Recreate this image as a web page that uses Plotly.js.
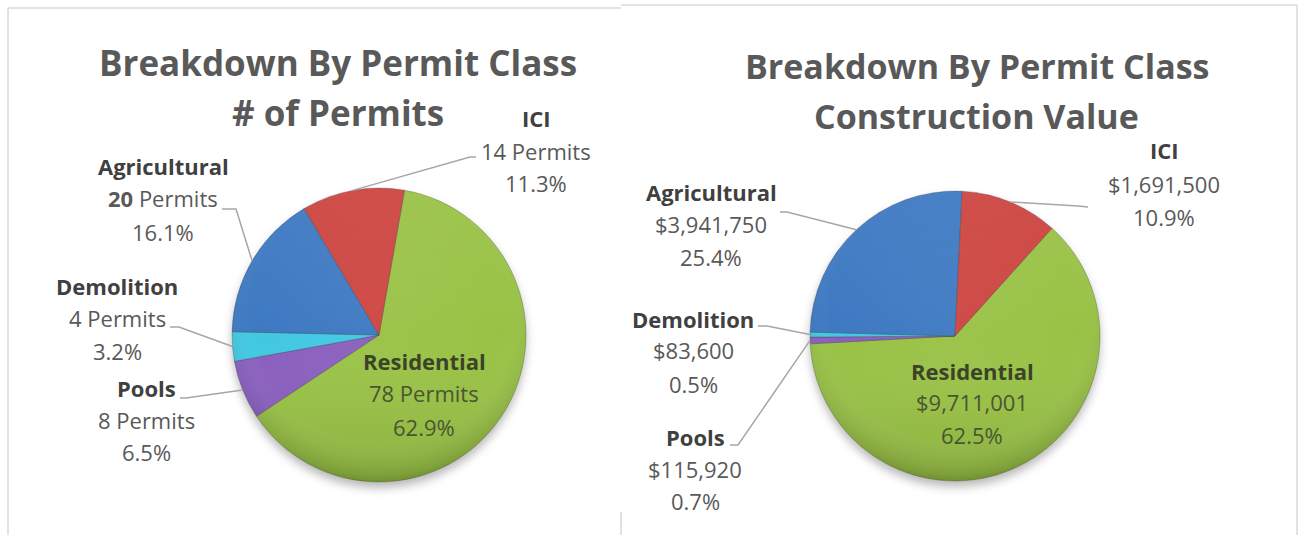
<!DOCTYPE html>
<html><head><meta charset="utf-8">
<script src="https://cdn.plot.ly/plotly-3.0.1.min.js"></script>
<style>html,body{margin:0;padding:0;background:#fff}#chart{width:1302px;height:535px}</style>
</head><body><div id="chart"></div>
<script>
// ---- data ----
const categories = ['Residential', 'Pools', 'Demolition', 'Agricultural', 'ICI'];
const permitCounts = [78, 8, 4, 20, 14];
const constructionValues = [9711001, 115920, 83600, 3941750, 1691500];
const sliceColors = ['#99c245', '#8a5fbf', '#42c8e2', '#3d79c2', '#cd4440'];
const titleLeft = ['Breakdown By Permit Class', '# of Permits'];
const titleRight = ['Breakdown By Permit Class', 'Construction Value'];

// ---- layout helpers ----
const W = 1302, H = 535;
const px = x => x / W, py = y => 1 - y / H;
const FONT = 'Open Sans, Noto Sans, sans-serif';

const charts = [
  {
    values: permitCounts, cx: 379, cy: 335, r: 147, rotation: 10,
    fmt: (v, cat) => (cat === 'Agricultural' ? '<b>' + v + '</b>' : v) + ' Permits',
    title: titleLeft, titleX: 338, titleY: [62, 112], titleSize: 35,
    pos: {
      Residential: {x: 424, y: [361, 393, 427]},
      Pools: {x: 146, y: [388, 420, 452]},
      Demolition: {x: 117, y: [286, 318, 351]},
      Agricultural: {x: 163, y: [166, 198, 232]},
      ICI: {x: 536, y: [118, 151, 183]}
    },
    leaders: {
      ICI: [[476, 157], [470, 157]],
      Agricultural: [[222, 209], [236, 209]],
      Demolition: [[170, 327], [179, 327]],
      Pools: [[180, 398], [186, 398]]
    }
  },
  {
    values: constructionValues, cx: 955, cy: 336, r: 145, rotation: 42,
    fmt: v => '$' + v.toLocaleString('en-US'),
    title: titleRight, titleX: 977, titleY: [66, 116], titleSize: 34,
    pos: {
      Residential: {x: 972, y: [371, 402, 435]},
      Pools: {x: 695, y: [437, 469, 501]},
      Demolition: {x: 693, y: [319, 350, 384]},
      Agricultural: {x: 711, y: [192, 224, 257]},
      ICI: {x: 1164, y: [150, 184, 217]}
    },
    leaders: {
      ICI: [[1088, 207], [1078, 206]],
      Agricultural: [[780, 212], [787, 212]],
      Demolition: [[758, 326], [767, 326]],
      Pools: [[730, 445], [738, 445]]
    }
  }
];

// soft 3-D shading overlay and drop shadow (decoration only)
const svgUri = s => 'data:image/svg+xml;charset=utf-8,' + encodeURIComponent(s);
const shadeSvg = svgUri("<svg xmlns='http://www.w3.org/2000/svg' width='300' height='300' viewBox='0 0 300 300'>" +
  "<defs><radialGradient id='g' cx='50%' cy='42%' r='60%'>" +
  "<stop offset='0' stop-color='#ffffff' stop-opacity='0.04'/>" +
  "<stop offset='0.72' stop-color='#ffffff' stop-opacity='0'/>" +
  "<stop offset='0.93' stop-color='#000000' stop-opacity='0.10'/>" +
  "<stop offset='1' stop-color='#000000' stop-opacity='0.25'/></radialGradient>" +
  "<linearGradient id='h' x1='0' y1='0' x2='0' y2='1'>" +
  "<stop offset='0' stop-color='#ffffff' stop-opacity='0.06'/>" +
  "<stop offset='0.5' stop-color='#ffffff' stop-opacity='0'/>" +
  "<stop offset='1' stop-color='#000000' stop-opacity='0.10'/></linearGradient></defs>" +
  "<circle cx='150' cy='150' r='150' fill='url(#h)'/>" +
  "<circle cx='150' cy='150' r='150' fill='url(#g)'/></svg>");
const shadowSvg = svgUri("<svg xmlns='http://www.w3.org/2000/svg' width='340' height='340' viewBox='0 0 340 340'>" +
  "<defs><filter id='b' x='-20%' y='-20%' width='140%' height='140%'><feGaussianBlur stdDeviation='5'/></filter></defs>" +
  "<circle cx='170' cy='176' r='150' fill='#000' fill-opacity='0.28' filter='url(#b)'/></svg>");

const traces = [], annotations = [], shapes = [], images = [];

charts.forEach(c => {
  traces.push({
    type: 'pie', labels: categories, values: c.values, sort: false,
    direction: 'clockwise', rotation: c.rotation, textinfo: 'none',
    hoverinfo: 'label+value+percent', showlegend: false,
    marker: {colors: sliceColors, line: {color: 'rgba(40,40,40,0.25)', width: 1}},
    domain: {x: [px(c.cx - c.r), px(c.cx + c.r)], y: [py(c.cy + c.r), py(c.cy - c.r)]}
  });
  images.push({source: shadeSvg, xref: 'paper', yref: 'paper', x: px(c.cx - c.r), y: py(c.cy - c.r),
    sizex: 2 * c.r / W, sizey: 2 * c.r / H, xanchor: 'left', yanchor: 'top', sizing: 'stretch', layer: 'above'});
  const rs = c.r * 340 / 300;
  images.push({source: shadowSvg, xref: 'paper', yref: 'paper', x: px(c.cx - rs), y: py(c.cy - rs),
    sizex: 2 * rs / W, sizey: 2 * rs / H, xanchor: 'left', yanchor: 'top', sizing: 'stretch', layer: 'below'});
  // titles
  c.title.forEach((t, i) => annotations.push({
    text: '<b>' + t + '</b>', x: px(c.titleX), y: py(c.titleY[i]), xref: 'paper', yref: 'paper',
    xanchor: 'center', yanchor: 'middle', showarrow: false,
    font: {family: FONT, size: c.titleSize, color: '#595959'}
  }));
  const total = c.values.reduce((a, b) => a + b, 0);
  let cum = 0;
  categories.forEach((cat, k) => {
    const v = c.values[k];
    const mid = (c.rotation + 360 * (cum + v / 2) / total) * Math.PI / 180;
    cum += v;
    const p = c.pos[cat];
    const inside = cat === 'Residential';
    const lines = ['<b>' + cat + '</b>', c.fmt(v, cat), (100 * v / total).toFixed(1) + '%'];
    lines.forEach((ln, i) => annotations.push({
      text: ln, x: px(p.x), y: py(p.y[i]), xref: 'paper', yref: 'paper',
      xanchor: 'center', yanchor: 'middle', showarrow: false,
      font: {family: FONT, size: 22, color: i === 0 ? (inside ? '#3b4428' : '#404040') : (inside ? '#4a5533' : '#595959')}
    }));
    if (c.leaders[cat]) {
      const ex = c.cx + c.r * Math.sin(mid), ey = c.cy - c.r * Math.cos(mid);
      const pts = c.leaders[cat].concat([[ex, ey]]);
      const path = pts.map((q, i) => (i ? 'L' : 'M') + px(q[0]).toFixed(5) + ',' + py(q[1]).toFixed(5)).join(' ');
      shapes.push({type: 'path', xref: 'paper', yref: 'paper', path: path,
        line: {color: '#a6a6a6', width: 1.5}});
    }
  });
});

// chart frames
const frame = (x0, y0, x1, y1) => shapes.push({type: 'line', xref: 'paper', yref: 'paper',
  x0: px(x0), y0: py(y0), x1: px(x1), y1: py(y1), line: {color: '#d9d9d9', width: 1.5}});
frame(8, 8, 8, 535);
frame(8, 8, 621, 8);
frame(621, 5, 1297, 5);
frame(1297, 5, 1297, 535);
frame(621, 512, 621, 535);

Plotly.newPlot('chart', traces, {
  width: W, height: H, margin: {l: 0, r: 0, t: 0, b: 0},
  paper_bgcolor: '#ffffff', plot_bgcolor: '#ffffff',
  annotations: annotations, shapes: shapes, images: images, showlegend: false
}, {displayModeBar: false, staticPlot: true});
</script>
</body></html>
